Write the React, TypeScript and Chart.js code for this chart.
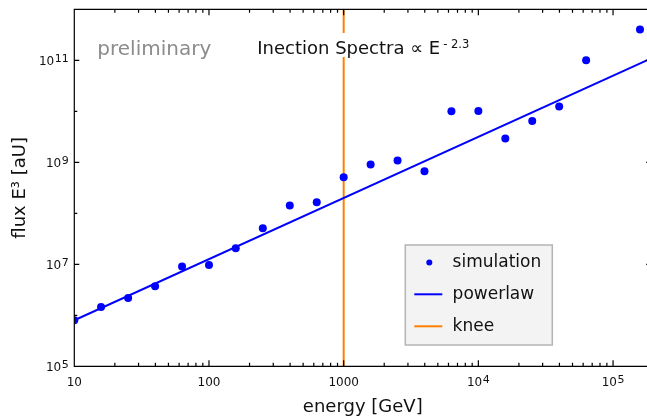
import React, { useEffect, useRef } from 'react';
import { Chart, registerables } from 'chart.js';

Chart.register(...registerables);

// ---- data ----
const energies = [10, 15.8, 25.1, 39.8, 63.1, 100, 158, 251, 398, 631, 1000, 1585, 2512, 3981, 6310, 10000, 15850, 25120, 39810, 63100, 158500];
const simulationFlux = [7.98e5, 1.46e6, 2.18e6, 3.7e6, 9.1e6, 9.7e6, 2.06e7, 5.08e7, 1.43e8, 1.64e8, 5.08e8, 9.1e8, 1.09e9, 6.67e8, 1.0e10, 1.01e10, 2.92e9, 6.46e9, 1.24e10, 1.0e11, 4.0e11];
const powerlawEnergy = [10, 192000];
const powerlawFlux = [8.0e5, 1.09e11];
const kneeEnergy = [1000, 1000];
const kneeFlux = [1e5, 1e12];

const xRange = [10, 192000];
const yRange = [1e5, 1e12];
const xTickValues = [10, 100, 1000, 1e4, 1e5];
const xTickBase = ['10', '100', '1000', '10', '10'];
const xTickExp = ['', '', '', '4', '5'];
const yTickValues = [1e5, 1e7, 1e9, 1e11];
const yTickBase = ['10', '10', '10', '10'];
const yTickExp = ['5', '7', '9', '11'];

const seriesLabels = ['simulation', 'powerlaw', 'knee'];
const BLUE = 'rgb(0,0,255)';
const ORANGE = 'rgb(255,128,0)';
const FONT = 'DejaVu Sans';

function drawPow(ctx: any, base: string, exp: string, x: number, y: number, align: 'center' | 'right') {
  ctx.font = `12px "${FONT}"`;
  const wb = ctx.measureText(base).width;
  ctx.font = `11px "${FONT}"`;
  const we = exp ? ctx.measureText(exp).width + 0.5 : 0;
  const total = wb + we;
  const x0 = align === 'center' ? x - total / 2 : x - total;
  ctx.textAlign = 'left';
  ctx.textBaseline = 'alphabetic';
  ctx.font = `12px "${FONT}"`;
  ctx.fillText(base, x0, y);
  if (exp) {
    ctx.font = `11px "${FONT}"`;
    ctx.fillText(exp, x0 + wb + 0.5, y - 3.5);
  }
}

const frameTicks = {
  id: 'frameTicks',
  afterDatasetsDraw(chart: any) {
    const { ctx, chartArea: a, scales } = chart;
    const xs = scales.x;
    const ys = scales.y;
    ctx.save();
    ctx.strokeStyle = '#000';
    ctx.lineWidth = 1.2;
    ctx.beginPath();
    ctx.rect(a.left, a.top, a.right - a.left, a.bottom - a.top);
    for (let k = 1; k <= 5; k++) {
      for (let m = 1; m <= 9; m++) {
        const v = m * Math.pow(10, k);
        if (v < xs.min || v > xs.max) continue;
        const px = xs.getPixelForValue(v);
        const len = m === 1 ? 6 : 3.5;
        ctx.moveTo(px, a.bottom);
        ctx.lineTo(px, a.bottom - len);
        ctx.moveTo(px, a.top);
        ctx.lineTo(px, a.top + len);
      }
    }
    for (let k = 5; k <= 12; k++) {
      const py = ys.getPixelForValue(Math.pow(10, k));
      const len = k % 2 === 1 ? 5 : 3;
      ctx.moveTo(a.left, py);
      ctx.lineTo(a.left + len, py);
      ctx.moveTo(a.right, py);
      ctx.lineTo(a.right - len, py);
    }
    ctx.stroke();
    // tick labels
    ctx.fillStyle = '#111';
    xTickValues.forEach((v, i) => {
      drawPow(ctx, xTickBase[i], xTickExp[i], xs.getPixelForValue(v), a.bottom + 19.7, 'center');
    });
    yTickValues.forEach((v, i) => {
      drawPow(ctx, yTickBase[i], yTickExp[i], a.left - 5.6, ys.getPixelForValue(v) + 4.7, 'right');
    });
    ctx.restore();
  },
};

const annotations = {
  id: 'annotations',
  afterDatasetsDraw(chart: any) {
    const { ctx, chartArea: a } = chart;
    ctx.save();
    ctx.font = `20px "${FONT}"`;
    ctx.fillStyle = '#8c8c8c';
    ctx.textBaseline = 'alphabetic';
    ctx.textAlign = 'left';
    ctx.fillText('preliminary', a.left + 23, a.top + 45.7);
    const main = 'Inection Spectra ∝ E';
    const sup = '- 2.3';
    const x0 = a.left + 183;
    ctx.font = `18px "${FONT}"`;
    const w1 = ctx.measureText(main).width;
    ctx.font = `11.5px "${FONT}"`;
    const w2 = ctx.measureText(sup).width;
    ctx.fillStyle = '#fff';
    ctx.fillRect(x0 - 6, a.top + 23.7, w1 + w2 + 16, 24);
    ctx.fillStyle = '#111';
    ctx.font = `18px "${FONT}"`;
    ctx.fillText(main, x0, a.top + 45);
    ctx.font = `11.5px "${FONT}"`;
    ctx.fillText(sup, x0 + w1 + 3, a.top + 38.5);
    ctx.restore();
  },
};

const boxLegend = {
  id: 'boxLegend',
  afterDraw(chart: any) {
    const { ctx, chartArea: a } = chart;
    const bx = a.left + 331;
    const by = a.top + 235.7;
    const bw = 147;
    const bh = 100;
    ctx.save();
    ctx.fillStyle = '#f3f3f3';
    ctx.fillRect(bx, by, bw, bh);
    ctx.strokeStyle = '#b4b4b4';
    ctx.lineWidth = 1.5;
    ctx.strokeRect(bx, by, bw, bh);
    const rows = [17.6, 49.3, 81.3];
    chart.data.datasets.forEach((ds: any, i: number) => {
      const cy = by + rows[i];
      if (ds.showLine === false) {
        ctx.fillStyle = ds.backgroundColor;
        ctx.beginPath();
        ctx.arc(bx + 24, cy, 3, 0, Math.PI * 2);
        ctx.fill();
      } else {
        ctx.strokeStyle = ds.borderColor;
        ctx.lineWidth = 2;
        ctx.beginPath();
        ctx.moveTo(bx + 9, cy);
        ctx.lineTo(bx + 37, cy);
        ctx.stroke();
      }
      ctx.fillStyle = '#111';
      ctx.font = `17px "${FONT}"`;
      ctx.textAlign = 'left';
      ctx.textBaseline = 'alphabetic';
      ctx.fillText(ds.label, bx + 47.3, cy + 4.6);
    });
    ctx.restore();
  },
};

export default function App() {
  const ref = useRef<HTMLCanvasElement>(null);
  useEffect(() => {
    if (!ref.current) return;
    document.body.style.margin = '0';
    const chart = new Chart(ref.current, {
      type: 'scatter',
      data: {
        datasets: [
          {
            label: seriesLabels[0],
            data: energies.map((e, i) => ({ x: e, y: simulationFlux[i] })),
            showLine: false,
            backgroundColor: BLUE,
            borderColor: BLUE,
            pointRadius: 4,
            pointBorderWidth: 0,
          },
          {
            label: seriesLabels[1],
            data: powerlawEnergy.map((e, i) => ({ x: e, y: powerlawFlux[i] })),
            showLine: true,
            borderColor: BLUE,
            backgroundColor: BLUE,
            borderWidth: 2,
            pointRadius: 0,
          },
          {
            label: seriesLabels[2],
            data: kneeEnergy.map((e, i) => ({ x: e, y: kneeFlux[i] })),
            showLine: true,
            borderColor: ORANGE,
            backgroundColor: ORANGE,
            borderWidth: 2,
            pointRadius: 0,
          },
        ],
      },
      options: {
        responsive: false,
        animation: false,
        devicePixelRatio: 1,
        layout: { padding: { left: 0, top: 9.3, right: 8.8, bottom: 0 } },
        plugins: { legend: { display: false }, tooltip: { enabled: false } },
        scales: {
          x: {
            type: 'logarithmic',
            position: 'bottom',
            min: xRange[0],
            max: xRange[1],
            grid: { display: false },
            border: { display: false },
            afterBuildTicks: (s: any) => {
              s.ticks = xTickValues.map((v) => ({ value: v }));
            },
            afterFit: (s: any) => {
              s.height = 53.7;
              s.paddingLeft = 0;
              s.paddingRight = 0;
            },
            ticks: { display: false, autoSkip: false, maxRotation: 0 },
            title: {
              display: true,
              text: 'energy [GeV]',
              color: '#111',
              font: { family: FONT, size: 18 },
              padding: { top: 0, bottom: 1.6 },
            },
          },
          y: {
            type: 'logarithmic',
            position: 'left',
            min: yRange[0],
            max: yRange[1],
            grid: { display: false },
            border: { display: false },
            afterBuildTicks: (s: any) => {
              s.ticks = yTickValues.map((v) => ({ value: v }));
            },
            afterFit: (s: any) => {
              s.width = 74.3;
              s.paddingTop = 0;
              s.paddingBottom = 0;
            },
            ticks: { display: false, autoSkip: false },
            title: {
              display: true,
              text: 'flux E³ [aU]',
              color: '#111',
              font: { family: FONT, size: 18 },
              padding: { top: 9.3, bottom: 0 },
            },
          },
        },
      },
      plugins: [annotations, frameTicks, boxLegend],
    } as any);
    return () => chart.destroy();
  }, []);

  return (
    <div style={{ width: 647, height: 420, overflow: 'hidden', position: 'relative' }}>
      <canvas ref={ref} width={660} height={420} style={{ display: 'block', width: 660, height: 420 }} />
    </div>
  );
}
